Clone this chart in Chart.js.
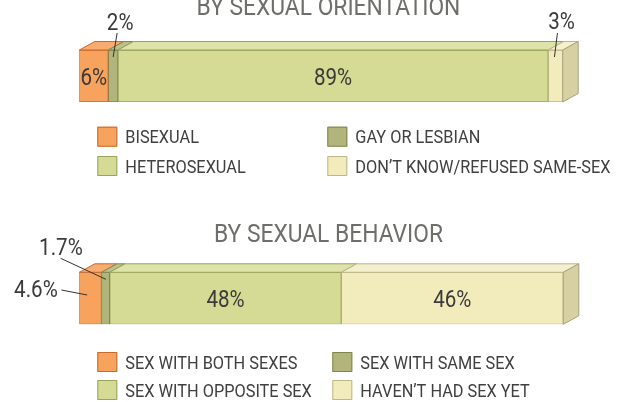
<!DOCTYPE html>
<html>
<head>
<meta charset="utf-8">
<script src="https://cdn.jsdelivr.net/npm/chart.js@4/dist/chart.umd.min.js"></script>
<style>
  html, body { margin: 0; padding: 0; background: #fff; }
  #wrap { position: relative; width: 626px; height: 402px; overflow: hidden; }
  canvas { position: absolute; left: 0; }
  #c1 { top: 0; }
  #c2 { top: 200px; }
</style>
</head>
<body>
<div id="wrap">
  <canvas id="c1" width="626" height="200"></canvas>
  <canvas id="c2" width="626" height="202"></canvas>
</div>
<script>
// data
const orientationTitle = "BY SEXUAL ORIENTATION";
const orientationLabels = ["BISEXUAL", "GAY OR LESBIAN", "HETEROSEXUAL", "DON\u2019T KNOW/REFUSED SAME-SEX"];
const orientationValues = [6, 2, 89, 3];

const behaviorTitle = "BY SEXUAL BEHAVIOR";
const behaviorLabels = ["SEX WITH BOTH SEXES", "SEX WITH SAME SEX", "SEX WITH OPPOSITE SEX", "HAVEN\u2019T HAD SEX YET"];
const behaviorValues = [4.6, 1.7, 48, 46];

// styles
const FONT = "Roboto, 'Liberation Sans', sans-serif";
const fills = ["#F7A35D", "#B1B57B", "#D5DB94", "#F2ECBC"];
const borders = ["#C46B2E", "#7E8650", "#9AA35B", "#BDB68A"];
const tops = ["#F8AD6E", "#BCC08B", "#DEE3A9", "#F4EFCC"];
const sideFill = "#D7D0A2";
const sideBorder = "#A8A17A";
const DEPTH_X = 15.5, DEPTH_Y = -8.5;

// label placement per chart: null = inside, else callout offsets from (segment centre, bar top)
const layouts = {
  c1: {
    padding: { left: 79.3, right: 63.3, top: 50, bottom: 98 },
    callouts: [
      null,
      { tx: 7, ty: 28, lx0: 4, ly0: -17, lx1: 0, ly1: 7 },
      null,
      { tx: 6, ty: 29, lx0: 2, ly0: -17, lx1: -1, ly1: 7 }
    ],
    title: orientationTitle,
    titleY: 15,
    legendX: [97.3, 327.3],
    legendY: [126.7, 156]
  },
  c2: {
    padding: { left: 79.3, right: 62.7, top: 72.3, bottom: 77.7 },
    callouts: [
      { tx: -54.5, ty: -16, lx0: -29, ly0: 17.7, lx1: -3.2, ly1: 22.7 },
      { tx: -44.7, ty: 25.3, lx0: -45, ly0: -14, lx1: 0.3, ly1: 7 },
      null,
      null
    ],
    title: behaviorTitle,
    titleY: 41.7,
    legendX: [97.3, 332.3],
    legendY: [152, 180]
  }
};

// condensed look: squeeze the text horizontally
let SX = 1;
(function () {
  const c = document.createElement("canvas").getContext("2d");
  c.font = "25.7px " + FONT;
  SX = 229 / c.measureText(behaviorTitle).width;
})();

function text(ctx, str, x, y, align) {
  ctx.save();
  ctx.translate(x, y);
  ctx.scale(SX, 1);
  ctx.textAlign = align;
  ctx.textBaseline = "alphabetic";
  ctx.fillText(str, 0, 0);
  ctx.restore();
}

const box3d = {
  id: "box3d",
  afterDatasetsDraw(chart) {
    const cfg = layouts[chart.canvas.id];
    const ctx = chart.ctx;
    const n = chart.data.datasets.length;
    ctx.save();
    ctx.lineWidth = 1;
    ctx.lineJoin = "round";
    const segs = [];
    for (let i = 0; i < n; i++) {
      const el = chart.getDatasetMeta(i).data[0];
      const x0 = Math.min(el.base, el.x), x1 = Math.max(el.base, el.x);
      const top = el.y - el.height / 2, bottom = el.y + el.height / 2;
      segs.push({ x0, x1, top, bottom, mid: el.y });
      // top face
      ctx.beginPath();
      ctx.moveTo(x0, top);
      ctx.lineTo(x0 + DEPTH_X, top + DEPTH_Y);
      ctx.lineTo(x1 + DEPTH_X, top + DEPTH_Y);
      ctx.lineTo(x1, top);
      ctx.closePath();
      ctx.fillStyle = tops[i];
      ctx.fill();
      ctx.strokeStyle = borders[i];
      ctx.stroke();
    }
    // right side face
    const last = segs[n - 1];
    ctx.beginPath();
    ctx.moveTo(last.x1, last.top);
    ctx.lineTo(last.x1 + DEPTH_X, last.top + DEPTH_Y);
    ctx.lineTo(last.x1 + DEPTH_X, last.bottom + DEPTH_Y);
    ctx.lineTo(last.x1, last.bottom);
    ctx.closePath();
    ctx.fillStyle = sideFill;
    ctx.fill();
    ctx.strokeStyle = sideBorder;
    ctx.stroke();

    // value labels
    ctx.font = "23.2px " + FONT;
    ctx.fillStyle = "#3A3A3A";
    segs.forEach((s, i) => {
      const cx = (s.x0 + s.x1) / 2;
      const txt = chart.data.datasets[i].data[0] + "%";
      const c = cfg.callouts[i];
      if (!c) {
        text(ctx, txt, cx, s.mid + 9, "center");
        return;
      }
      text(ctx, txt, cx + c.tx, s.top - c.ty + 8.3, "center");
      ctx.beginPath();
      ctx.moveTo(cx + c.lx0, s.top + c.ly0);
      ctx.lineTo(cx + c.lx1, s.top + c.ly1);
      ctx.strokeStyle = "#333";
      ctx.stroke();
    });

    // title
    ctx.font = "25.7px " + FONT;
    ctx.fillStyle = "#6E6E6A";
    text(ctx, cfg.title, 328.5, cfg.titleY, "center");

    // legend, 2 x 2
    ctx.font = "18.4px " + FONT;
    chart.data.datasets.forEach((d, i) => {
      const x = cfg.legendX[i % 2];
      const y = cfg.legendY[Math.floor(i / 2)];
      ctx.fillStyle = fills[i];
      ctx.fillRect(x, y, 20, 20);
      ctx.strokeStyle = borders[i];
      ctx.strokeRect(x + 0.5, y + 0.5, 19, 19);
      ctx.fillStyle = "#404040";
      text(ctx, d.label, x + 28, y + 16.6, "left");
    });
    ctx.restore();
  }
};

function makeChart(id, labels, values) {
  const total = values.reduce((a, b) => a + b, 0);
  return new Chart(document.getElementById(id), {
    type: "bar",
    data: {
      labels: [""],
      datasets: labels.map((lab, i) => ({
        label: lab,
        data: [values[i]],
        backgroundColor: fills[i],
        borderColor: borders[i],
        borderWidth: 1,
        borderSkipped: false,
        barPercentage: 1,
        categoryPercentage: 1
      }))
    },
    options: {
      indexAxis: "y",
      responsive: false,
      animation: false,
      devicePixelRatio: 1,
      layout: { padding: layouts[id].padding },
      scales: {
        x: { stacked: true, min: 0, max: total, display: false },
        y: { stacked: true, display: false }
      },
      plugins: {
        legend: { display: false },
        tooltip: { enabled: false }
      }
    },
    plugins: [box3d]
  });
}

makeChart("c1", orientationLabels, orientationValues);
makeChart("c2", behaviorLabels, behaviorValues);
</script>
</body>
</html>
